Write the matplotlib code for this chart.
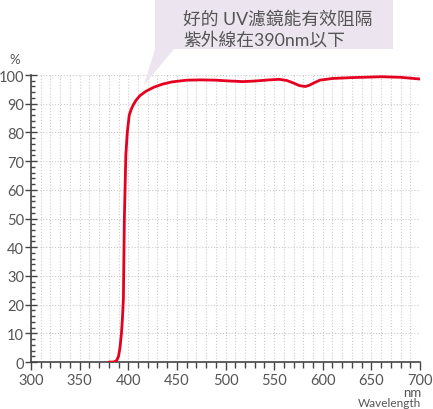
import numpy as np
import matplotlib
matplotlib.use("Agg")
import matplotlib.pyplot as plt
from matplotlib.patches import Polygon
from matplotlib.ticker import MultipleLocator

plt.rcParams['font.family'] = ['Lato', 'Noto Sans CJK TC', 'DejaVu Sans']

# transmission curve
wavelength = [380, 385, 388, 390, 391.5, 393, 394, 395, 396, 397.5, 399, 401, 403,
              405, 408, 412, 418, 426, 435, 445, 460, 475, 490, 505, 518, 530, 545,
              555, 563, 570, 576, 582, 586, 590, 597, 610, 630, 660, 680, 700]
transmission = [0, 0, 0.5, 2, 5, 10, 15, 22, 50, 72, 80, 86, 88,
                89.5, 91.2, 92.8, 94.3, 95.7, 96.8, 97.6, 98.2, 98.3, 98.2, 97.9, 97.7, 97.9, 98.3,
                98.5, 98.1, 97.2, 96.3, 96.0, 96.4, 97.1, 98.2, 98.8, 99.1, 99.4, 99.2, 98.6]
x_ticks = [300, 350, 400, 450, 500, 550, 600, 650, 700]
y_ticks = [0, 10, 20, 30, 40, 50, 60, 70, 80, 90, 100]
callout = "好的 UV濾鏡能有效阻隔\n紫外線在390nm以下"

fig = plt.figure(figsize=(4.33, 4.10), dpi=100)
ax = fig.add_axes([0.0716, 0.1146, 0.8984, 0.70])

ax.plot(wavelength, transmission, color='#e60020', lw=2, solid_capstyle='round', zorder=3)

ax.set_xlim(300, 700)
ax.set_ylim(0, 100)
ax.set_xticks(x_ticks)
ax.set_yticks(y_ticks)
ax.xaxis.set_minor_locator(MultipleLocator(10))
ax.yaxis.set_minor_locator(MultipleLocator(2))

ax.grid(True, which='minor', axis='x', color='#cccccc', ls=':', lw=0.8)
ax.grid(True, which='major', axis='both', color='#cccccc', ls=':', lw=0.8)

for s in ['top', 'right']:
    ax.spines[s].set_visible(False)
for s in ['left', 'bottom']:
    ax.spines[s].set_color('#444444')
    ax.spines[s].set_linewidth(1.2)

ax.tick_params(axis='x', which='major', direction='out', length=6, width=1, color='#444444',
               labelsize=10.5, labelcolor='#555555', pad=2)
ax.tick_params(axis='x', which='minor', direction='out', length=4, width=1, color='#444444')
ax.tick_params(axis='y', which='major', direction='inout', length=8, width=1, color='#444444',
               labelsize=10.5, labelcolor='#555555', pad=1)
ax.tick_params(axis='y', which='minor', direction='in', length=3, width=1, color='#444444')

fig.text(15 / 433, 1 - 60 / 410, '%', ha='center', va='center', fontsize=9.5, color='#555555')
fig.text(421 / 433, 1 - 397 / 410, 'nm', ha='right', va='baseline', fontsize=9.5, color='#555555')
fig.text(421 / 433, 1 - 407 / 410, 'Wavelength', ha='right', va='baseline', fontsize=8.5, color='#555555')

# speech bubble
W, H = 433, 410
pts = [(155, 0), (393, 0), (393, 50), (174, 50), (144, 86), (155, 50)]
bubble = Polygon([(x / W, 1 - y / H) for x, y in pts], closed=True, transform=fig.transFigure,
                 facecolor='#ece4ef', edgecolor='none', zorder=5)
fig.add_artist(bubble)
fig.text(183 / W, 1 - 30 / H, callout, ha='left', va='center', fontsize=12.8, color='#555555',
         linespacing=1.3, zorder=6)

fig.savefig('out.png', dpi=100)
